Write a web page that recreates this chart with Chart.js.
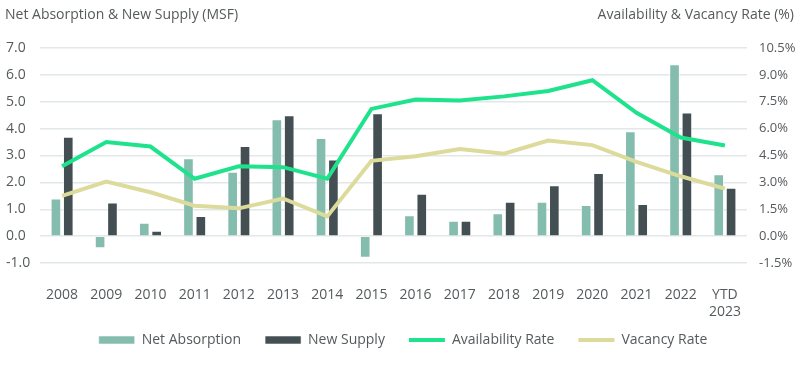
<!DOCTYPE html>
<html>
<head>
<meta charset="utf-8">
<script src="https://cdn.jsdelivr.net/npm/chart.js@4.4.1/dist/chart.umd.min.js"></script>
<style>
  html, body { margin:0; padding:0; background:#fff; }
  #wrap { width:800px; height:366px; position:relative; }
</style>
</head>
<body>
<div id="wrap"><canvas id="c"></canvas></div>
<script>
/* ═══ DATA ══════════════════════════════════════════ */
const YEARS = ['2008','2009','2010','2011','2012','2013','2014','2015','2016','2017','2018','2019','2020','2021','2022',['YTD','2023']];
const NET_ABSORPTION = [1.4,-0.45,0.5,2.9,2.4,4.35,3.65,-0.8,0.78,0.57,0.85,1.28,1.16,3.9,6.4,2.3];
const NEW_SUPPLY     = [3.7,1.25,0.2,0.75,3.35,4.5,2.85,4.57,1.58,0.57,1.28,1.89,2.35,1.2,4.6,1.8];
const AVAIL_RATE     = [3.9,5.25,5.0,3.2,3.9,3.85,3.2,7.1,7.63,7.57,7.8,8.1,8.7,6.88,5.5,5.06];
const VACANCY_RATE   = [2.25,3.05,2.45,1.7,1.55,2.1,1.1,4.2,4.46,4.86,4.6,5.33,5.08,4.14,3.34,2.65];

const LEFT_TITLE  = 'Net Absorption & New Supply (MSF)';
const RIGHT_TITLE = 'Availability & Vacancy Rate (%)';

const TXT = '#555a5c';
const FONT = {family:'Open Sans', size:14};

// axis titles drawn above the plot area
const topTitles = {
  id:'topTitles',
  afterDraw(chart) {
    const ctx = chart.ctx;
    ctx.save();
    ctx.font = '14px "Open Sans"';
    ctx.fillStyle = TXT;
    ctx.textBaseline = 'middle';
    ctx.textAlign = 'left';
    ctx.fillText(LEFT_TITLE, 5, 15);
    ctx.textAlign = 'right';
    ctx.fillText(RIGHT_TITLE, 794, 15);
    ctx.restore();
  }
};

// legend padding also sets the gap between items, so pull the row up a bit
const legendNudge = {
  id:'legendNudge',
  afterLayout(chart) {
    const l = chart.legend;
    if (!l) return;
    l.top -= 14; l.bottom -= 14;
  }
};

const BAR = {categoryPercentage:0.56, barPercentage:0.86, borderWidth:1, borderColor:'rgba(255,255,255,.55)', pointStyle:'rect', yAxisID:'y', order:1};
const LINE = {type:'line', borderWidth:4, pointRadius:0, tension:0, yAxisID:'y2', order:0, pointStyle:'line'};

new Chart(document.getElementById('c'), {
  type:'bar',
  data:{
    labels:YEARS,
    datasets:[
      {...BAR, label:'Net Absorption', data:NET_ABSORPTION, backgroundColor:'#84bdae'},
      {...BAR, label:'New Supply', data:NEW_SUPPLY, backgroundColor:'#434f52'},
      {...LINE, label:'Availability Rate', data:AVAIL_RATE, borderColor:'#1ee38c', backgroundColor:'#1ee38c'},
      {...LINE, label:'Vacancy Rate', data:VACANCY_RATE, borderColor:'#dcdb9c', backgroundColor:'#dcdb9c'}
    ]
  },
  options:{
    responsive:true, maintainAspectRatio:false, animation:false,
    layout:{padding:{top:48, left:6, right:0, bottom:-5}},
    plugins:{
      legend:{display:true, position:'bottom',
        labels:{font:FONT, color:TXT, usePointStyle:true, pointStyleWidth:36, boxHeight:8, padding:24,
          sort:(a,b)=>a.datasetIndex-b.datasetIndex}},
      tooltip:{enabled:false}
    },
    scales:{
      x:{grid:{display:false, drawTicks:false}, border:{display:false},
         afterFit:s=>{ s.height = 60; },
         ticks:{font:FONT, color:TXT, maxRotation:0, autoSkip:false, padding:24}},
      y:{position:'left', min:-1, max:7,
         afterFit:s=>{ s.width = 34; },
         grid:{color:'#e2e8e8', lineWidth:1.5, drawTicks:false}, border:{display:false},
         ticks:{stepSize:1, font:FONT, color:TXT, crossAlign:'far', callback:v=>v.toFixed(1)}},
      y2:{position:'right', min:-1.5, max:10.5,
         afterFit:s=>{ s.width = 53; },
         grid:{display:false, drawTicks:false}, border:{display:false},
         ticks:{stepSize:1.5, font:{family:'Open Sans', size:13}, color:TXT, padding:12, callback:v=>v.toFixed(1)+'%'}}
    }
  },
  plugins:[topTitles, legendNudge]
});
</script>
</body>
</html>
